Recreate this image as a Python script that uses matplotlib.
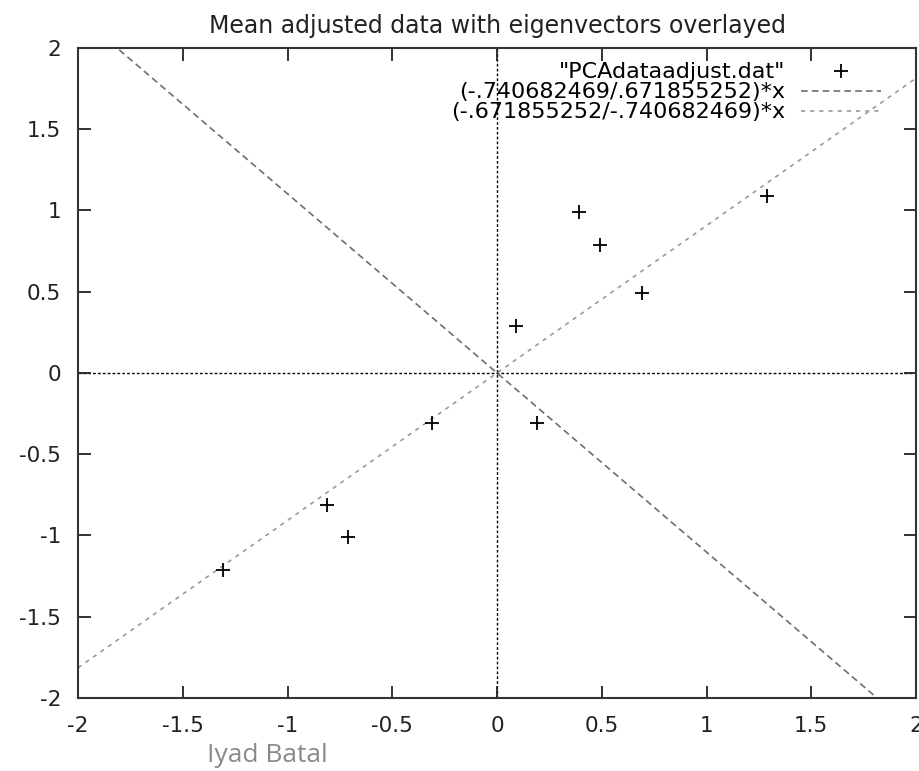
import numpy as np
import matplotlib
matplotlib.use("Agg")
import matplotlib.pyplot as plt

# Mean-adjusted data
x_adj = [0.69, -1.31, 0.39, 0.09, 1.29, 0.49, 0.19, -0.81, -0.31, -0.71]
y_adj = [0.49, -1.21, 0.99, 0.29, 1.09, 0.79, -0.31, -0.81, -0.31, -1.01]

# Eigenvector components
ev1 = (-0.740682469, 0.671855252)
ev2 = (-0.671855252, -0.740682469)

labels = ['"PCAdataadjust.dat"',
          "(-.740682469/.671855252)*x",
          "(-.671855252/-.740682469)*x"]
ticks = [-2, -1.5, -1, -0.5, 0, 0.5, 1, 1.5, 2]
tick_labels = ["-2", "-1.5", "-1", "-0.5", "0", "0.5", "1", "1.5", "2"]

plt.rcParams["font.family"] = ["DejaVu Sans"]

fig = plt.figure(figsize=(9.2, 7.71), dpi=100)
ax = fig.add_axes([0.0848, 0.0947, 0.9109, 0.8431])

xs = np.linspace(-2, 2, 400)

ax.axhline(0, color="black", lw=1.0, ls=(0, (2, 1.5)), zorder=1)
ax.axvline(0, color="black", lw=1.0, ls=(0, (2, 1.5)), zorder=1)

ax.plot(x_adj, y_adj, ls="none", marker="+", ms=9.5, mew=1.3,
        color="black", label=labels[0], zorder=3)
ax.plot(xs, ev1[0] / ev1[1] * xs, color="#6e6e6e", lw=1.2,
        ls=(0, (4, 2.5)), label=labels[1], zorder=2)
ax.plot(xs, ev2[0] / ev2[1] * xs, color="#9a9a9a", lw=1.2,
        ls=(0, (2.5, 3)), label=labels[2], zorder=2)

ax.set_xlim(-2, 2)
ax.set_ylim(-2, 2)
ax.set_xticks(ticks)
ax.set_xticklabels(tick_labels)
ax.set_yticks(ticks)
ax.set_yticklabels(tick_labels)
ax.tick_params(direction="in", length=9, width=1.3, top=True, right=True,
               labelsize=15.5, colors="#222222")
ax.tick_params(axis="x", pad=13)
ax.tick_params(axis="y", pad=12)
for s in ax.spines.values():
    s.set_linewidth(1.5)
    s.set_color("#333333")

ax.set_title("Mean adjusted data with eigenvectors overlayed",
             fontsize=17, pad=11, color="#222222")

ax.legend(loc="upper right", frameon=False, markerfirst=False,
          fontsize=16, handlelength=3.6, handletextpad=0.7,
          labelspacing=0.0, borderaxespad=0.2, borderpad=0.45,
          bbox_to_anchor=(0.975, 1.0))

fig.text(0.225, 0.0117, "Iyad Batal", color="#8a8a8a", fontsize=19,
         va="baseline", family=["Open Sans", "DejaVu Sans"])

fig.savefig("out.png", dpi=100, facecolor="white")
